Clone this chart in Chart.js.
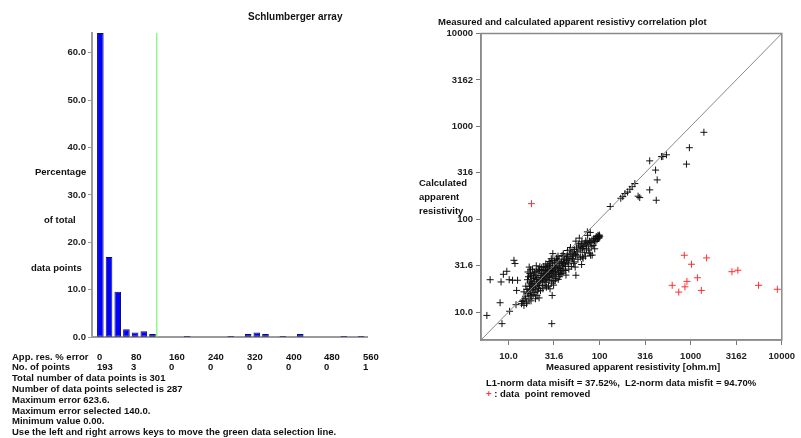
<!DOCTYPE html>
<html>
<head>
<meta charset="utf-8">
<script src="https://cdn.jsdelivr.net/npm/chart.js@4.4.0/dist/chart.umd.min.js"></script>
<style>
  body { margin: 0; background: #fff; width: 801px; height: 438px; overflow: hidden; position: relative;
         font-family: "Liberation Sans", Arial, sans-serif; font-weight: bold; font-size: 9.5px; color: #111; }
  canvas { position: absolute; }
  .t { position: absolute; white-space: pre; line-height: 11px; }
</style>
</head>
<body>
<canvas id="hist" style="left:0;top:0" width="400" height="345"></canvas>
<canvas id="corr" style="left:400px;top:0" width="401" height="377"></canvas>

<div class="t" style="left:248px;top:11px;font-size:10px">Schlumberger array</div>
<div class="t" style="left:35px;top:166px">Percentage</div>
<div class="t" style="left:44px;top:214px">of total</div>
<div class="t" style="left:31px;top:262px">data points</div>
<div id="table"></div>

<div class="t" style="left:438px;top:16px">Measured and calculated apparent resistivy correlation plot</div>
<div class="t" style="left:419px;top:177px">Calculated</div>
<div class="t" style="left:419px;top:191px">apparent</div>
<div class="t" style="left:419px;top:205px">resistivity</div>
<div class="t" style="left:546px;top:361px">Measured apparent resistivity [ohm.m]</div>
<div class="t" style="left:486px;top:377px">L1-norm data misift = 37.52%,  L2-norm data misfit = 94.70%</div>
<div class="t" style="left:486px;top:388px"><span style="color:#ff3030">+</span> : data  point removed</div>

<script>
// histogram of app. res. % error (bins of 20 %)
const binStart = [0, 20, 40, 60, 80, 100, 120, 140, 160, 180, 200, 220, 240, 260, 280, 300,
                  320, 340, 360, 380, 400, 420, 440, 460, 480, 500, 520, 540, 560, 580, 600];
const binPercent = [64.1, 16.9, 9.6, 1.7, 1.0, 1.3, 0.7, 0, 0, 0, 0.3, 0, 0, 0, 0, 0.3,
                    0, 0.7, 1.0, 0.7, 0, 0.3, 0, 0.7, 0, 0, 0, 0, 0.3, 0, 0.3];
const selectionLine = 140;
const maxError = 623.6;
const percentTicks = [0, 10, 20, 30, 40, 50, 60];

// text table under histogram
const errorLabels = ["0", "80", "160", "240", "320", "400", "480", "560"];
const pointCounts = ["193", "3", "0", "0", "0", "0", "0", "1"];
const infoLines = [
  "Total number of data points is 301",
  "Number of data points selected is 287",
  "Maximum error 623.6.",
  "Maximum error selected 140.0.",
  "Minimum value 0.00.",
  "Use the left and right arrows keys to move the green data selection line."
];

// correlation plot: [measured, calculated]
const resTicks = [10, 31.6, 100, 316, 1000, 3162, 10000];
const resTickLabels = ["10.0", "31.6", "100", "316", "1000", "3162", "10000"];
const upperPoints = [
  [1397, 863], [968, 589], [899, 392], [542, 494], [495, 474], [478, 472], [355, 425], [412, 338], [429, 265],
  [355, 207], [419, 160], [265, 177], [276, 171], [244, 242], [228, 224], [215, 210], [203, 196], [190, 189],
  [180, 175], [171, 168], [131, 137]
];
const outlierPoints = [
  [5.8, 9.2], [8.5, 7.5], [29.9, 7.5], [30.2, 15.1], [10.3, 10.2], [8.1, 12.6], [12.1, 12.0], [6.3, 22.3],
  [8.3, 21.1], [8.8, 25.5], [9.6, 27.5], [10.2, 22.3], [11.5, 36.1], [11.8, 33.3], [11.1, 22.0], [12.6, 22.0],
  [12.3, 17.1], [13.9, 12.3], [15.8, 12.3], [14.5, 13.4], [55, 24.9], [64.9, 39.3], [73.5, 73], [98, 64.4],
  [79.8, 40.9], [52.7, 34.7], [30.7, 42.6]
];
const clusterLow = [
  [14.2, 13.0], [14.8, 16.5], [14.8, 11.8], [15.2, 14.1], [15.4, 14.8], [15.5, 19.0], [15.9, 12.8], [16.0, 17.5],
  [16.1, 16.0], [16.2, 22.3], [16.4, 27.0], [16.5, 15.8], [16.6, 24.0], [16.8, 13.8], [16.9, 30.5], [17.0, 18.9],
  [17.1, 17.8], [17.2, 21.0], [17.2, 26.0], [17.3, 16.9], [17.4, 15.2], [17.5, 24.6], [17.5, 28.5], [17.6, 20.2],
  [17.7, 13.2], [17.8, 19.6], [17.8, 23.8], [18.0, 14.9], [18.1, 21.5], [18.2, 17.4], [18.4, 29.0], [18.5, 20.4],
  [18.7, 15.5], [18.8, 25.1], [18.9, 18.3], [19.0, 23.0], [19.2, 21.5], [19.3, 26.8], [19.5, 16.2], [19.6, 19.0],
  [19.8, 13.9], [19.9, 24.5], [20.0, 17.6], [20.2, 31.5], [20.3, 22.4], [20.5, 27.4], [20.6, 15.0], [20.8, 20.1],
  [21.0, 16.8], [21.1, 23.6], [21.3, 28.2], [21.4, 18.0], [21.5, 21.0], [21.7, 14.2], [21.9, 19.4], [22.0, 28.7],
  [22.1, 30.8], [22.3, 24.8], [22.5, 17.0], [22.6, 22.0], [23.0, 25.9], [23.2, 30.0], [23.3, 27.8], [23.4, 23.1],
  [23.5, 19.2], [23.8, 21.2], [23.9, 17.8], [24.0, 26.0], [24.2, 24.5], [24.4, 31.0], [24.5, 28.0], [24.6, 22.1],
  [25.0, 25.0]
];
const clusterMid = [
  [25.2, 19.5], [25.4, 23.2], [25.5, 28.5], [25.7, 33.0], [25.9, 21.0], [26.0, 30.0], [26.1, 18.5], [26.3, 25.6],
  [26.5, 22.5], [26.6, 30.8], [26.8, 27.0], [27.0, 32.0], [27.2, 24.3], [27.5, 19.0], [27.8, 27.5], [27.9, 22.0],
  [28.0, 35.0], [28.1, 31.5], [28.3, 25.0], [28.5, 23.5], [28.6, 17.8], [28.8, 29.0], [29.1, 33.5], [29.4, 26.0],
  [29.5, 37.5], [29.8, 20.5], [29.9, 28.0], [30.0, 24.0], [30.2, 36.0], [30.4, 32.0], [30.5, 29.5], [30.8, 27.5],
  [31.0, 21.5], [31.1, 26.5], [31.3, 19.5], [31.7, 24.5], [31.9, 35.5], [32.2, 30.5], [32.5, 34.0], [32.6, 21.8],
  [32.8, 27.5], [33.0, 23.0], [33.2, 30.5], [33.5, 25.5], [33.8, 38.0], [34.1, 31.5], [34.5, 36.5], [34.8, 28.5],
  [35.0, 40.0], [35.2, 22.5], [35.5, 26.5], [35.8, 30.0], [36.0, 37.0], [36.2, 33.0], [36.5, 24.0], [36.9, 29.5],
  [37.0, 25.5], [37.6, 28.0], [37.9, 33.5], [38.0, 26.0], [38.4, 35.0], [38.8, 40.5], [39.1, 31.5], [39.5, 27.0],
  [39.9, 29.0], [40.0, 42.5], [40.3, 34.0], [40.7, 36.5], [41.0, 39.5], [41.5, 33.0], [42.0, 28.0], [42.3, 31.0],
  [42.8, 25.0], [43.2, 38.0], [43.6, 36.0], [44.0, 34.5], [44.4, 42.0], [44.5, 46.0], [45.0, 40.0], [45.5, 33.0],
  [46.0, 29.0], [46.2, 36.5], [47.2, 46.5], [47.5, 42.0], [48.0, 49.5], [48.8, 38.0], [49.0, 31.0], [50.0, 44.5],
  [50.5, 37.5], [51.5, 40.0], [52.0, 33.5], [52.5, 43.0], [53.0, 47.0], [54.0, 30.5], [54.5, 41.5], [55.0, 58.0]
];
const clusterHigh = [
  [56.0, 49.0], [56.5, 41.0], [57.8, 44.5], [58.0, 37.0], [58.5, 54.5], [59.5, 51.5], [60.0, 62.5], [61.3, 46.5],
  [62.0, 39.0], [62.5, 50.0], [63.0, 54.0], [63.5, 32.5], [64.0, 57.0], [65.0, 48.5], [66.0, 38.0], [67.0, 51.0],
  [68.0, 44.0], [69.0, 55.0], [70.0, 40.0], [70.5, 58.5], [71.0, 52.5], [72.0, 48.0], [73.0, 56.5], [74.0, 67.0],
  [75.0, 54.0], [76.0, 46.5], [77.5, 58.0], [78.0, 43.0], [79.0, 72.0], [80.0, 56.0], [81.0, 50.5], [82.5, 59.5],
  [83.0, 41.0], [85.0, 52.0], [86.0, 61.5], [88.0, 58.0], [88.5, 48.0], [90.0, 62.0], [91.0, 57.5], [92.0, 65.0],
  [94.0, 60.0], [95.0, 63.0], [96.0, 67.0], [97.0, 64.8], [97.5, 62.5], [98.5, 66.0], [99.0, 63.0], [99.5, 67.5],
  [100.5, 65.5]
];
const removedPoints = [
  [627, 19.4], [740, 16.4], [851, 40.9], [1021, 32.7], [910, 21.4], [865, 18.7], [1186, 23.4], [1310, 17.1],
  [1496, 38.3], [2838, 27.2], [3296, 28.2], [5560, 19.4], [8930, 17.6], [17.9, 147]
];
const resMin = 5, resMax = 10000;

// ---- table text
const table = document.getElementById("table");
function addText(str, x, y) {
  const d = document.createElement("div");
  d.className = "t";
  d.style.left = x + "px";
  d.style.top = y + "px";
  d.textContent = str;
  table.appendChild(d);
}
const colX = [97, 131, 169, 208, 247, 286, 324, 363];
const rowTop = 350.5, rowGap = 10.8;
addText("App. res. % error", 12, rowTop);
addText("No. of points", 12, rowTop + rowGap);
errorLabels.forEach((s, i) => addText(s, colX[i], rowTop));
pointCounts.forEach((s, i) => addText(s, colX[i], rowTop + rowGap));
infoLines.forEach((s, i) => addText(s, 12, rowTop + rowGap * (i + 2)));

const font = { family: "'Liberation Sans', Arial, sans-serif", weight: "bold", size: 9.5 };

// ---- histogram
new Chart(document.getElementById("hist"), {
  type: "bar",
  data: {
    datasets: [
      {
        type: "line",
        data: [{ x: selectionLine, y: 0 }, { x: selectionLine, y: 64.12 }],
        borderColor: "#5cf25c",
        borderWidth: 1,
        pointRadius: 0,
      },
      {
        data: binStart.map((b, i) => ({ x: b + 10, y: binPercent[i] || null })),
        backgroundColor: "#0000ff",
        borderColor: "#101060",
        borderWidth: 1,
        borderSkipped: false,
        barPercentage: 0.76,
        categoryPercentage: 1,
      },
    ],
  },
  options: {
    responsive: false,
    animation: false,
    events: [],
    layout: { padding: { top: 33, right: 33, left: 0, bottom: 0 } },
    plugins: { legend: { display: false }, tooltip: { enabled: false } },
    scales: {
      x: {
        type: "linear",
        offset: false,
        min: -9.2,
        max: maxError,
        ticks: { display: false },
        grid: { display: false, offset: false },
        border: { color: "#9a9a9a", width: 2 },
        afterFit: (s) => { s.height = 5; },
      },
      y: {
        min: 0,
        max: 64.12,
        afterBuildTicks: (s) => { s.ticks = percentTicks.map((v) => ({ value: v })); },
        ticks: { callback: (v) => v.toFixed(1), font, color: "#222", padding: 2 },
        grid: { drawOnChartArea: false, tickLength: 4, color: "#9a9a9a" },
        border: { color: "#9a9a9a", width: 2 },
        afterFit: (s) => { s.width = 92; },
      },
    },
  },
});

// ---- correlation plot
const boxPlugin = {
  id: "box",
  afterDraw(chart) {
    const a = chart.chartArea, ctx = chart.ctx;
    ctx.save();
    ctx.strokeStyle = "#8a8a8a";
    ctx.lineWidth = 1.5;
    ctx.strokeRect(a.left, a.top, a.right - a.left, a.bottom - a.top);
    ctx.restore();
  },
};

function logAxis() {
  return {
    type: "logarithmic",
    min: resMin,
    max: resMax,
    afterBuildTicks: (s) => { s.ticks = resTicks.map((v) => ({ value: v })); },
    ticks: {
      callback: (v) => resTickLabels[resTicks.indexOf(v)],
      font,
      color: "#222",
      padding: 3,
      autoSkip: false,
      maxRotation: 0,
    },
    grid: { drawOnChartArea: false, tickLength: 5, color: "#777" },
    border: { color: "#8a8a8a", width: 1.5 },
  };
}

const xAxis = logAxis();
xAxis.afterFit = (s) => { s.height = 37; };
xAxis.ticks.padding = 6;
const yAxis = logAxis();
yAxis.afterFit = (s) => { s.width = 81; };

const toXY = (p) => ({ x: p[0], y: p[1] });
const blackPoints = [...upperPoints, ...outlierPoints, ...clusterLow, ...clusterMid, ...clusterHigh];

new Chart(document.getElementById("corr"), {
  type: "scatter",
  data: {
    datasets: [
      {
        type: "line",
        data: [{ x: resMin, y: resMin }, { x: resMax, y: resMax }],
        borderColor: "#888",
        borderWidth: 1,
        pointRadius: 0,
      },
      {
        data: blackPoints.map(toXY),
        pointStyle: "cross",
        pointRadius: 3.5,
        borderColor: "#111",
        borderWidth: 1,
      },
      {
        data: removedPoints.map(toXY),
        pointStyle: "cross",
        pointRadius: 3.5,
        borderColor: "#ff3030",
        borderWidth: 1,
      },
    ],
  },
  options: {
    responsive: false,
    animation: false,
    events: [],
    layout: { padding: { top: 33.5, right: 15, left: 0, bottom: 0 } },
    plugins: { legend: { display: false }, tooltip: { enabled: false } },
    scales: { x: xAxis, y: yAxis },
  },
  plugins: [boxPlugin],
});
</script>
</body>
</html>
